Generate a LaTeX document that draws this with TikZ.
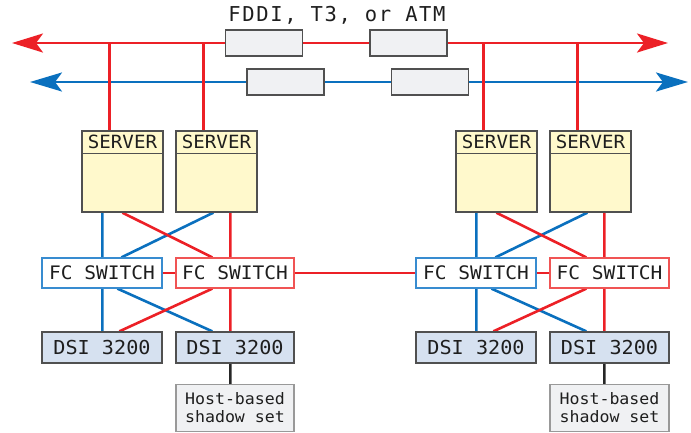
\documentclass[tikz,border=0pt]{standalone}
\usepackage{fontspec}
\newfontfamily\lblfont[FakeStretch=1.05]{DejaVu Sans Mono}
\newfontfamily\titlefont[LetterSpace=8]{DejaVu Sans Mono}
\usetikzlibrary{arrows.meta,calc,backgrounds}
\definecolor{netred}{RGB}{236,32,38}
\definecolor{netblue}{RGB}{10,112,190}
\definecolor{swred}{RGB}{240,84,84}
\definecolor{swblue}{RGB}{56,140,208}
\definecolor{boxgray}{RGB}{80,80,80}
\definecolor{srvfill}{RGB}{255,249,204}
\definecolor{dsifill}{RGB}{214,225,240}
\definecolor{lightfill}{RGB}{240,241,243}
\definecolor{txt}{RGB}{30,30,30}
\begin{document}
\begin{tikzpicture}[x=1pt,y=-1pt,
  redw/.style={draw=netred,line width=2.6pt},
  bluew/.style={draw=netblue,line width=2.6pt},
  blackw/.style={draw=black!85,line width=2.6pt},
  tip/.style={-{Stealth[length=31pt,width=19pt,inset=7pt]}},
  netbox/.style={draw=boxgray,fill=lightfill,line width=1.2pt,minimum width=77pt,minimum height=26pt,inner sep=0},
  server/.style={draw=boxgray,fill=srvfill,line width=1.3pt,minimum width=81pt,minimum height=81pt,inner sep=0},
  srvlabel/.style={font=\lblfont\fontsize{18.2}{19}\selectfont,text=txt,inner sep=0},
  switchb/.style={fill=white,line width=1.2pt,minimum width=120pt,minimum height=30pt,inner sep=0,font=\lblfont\fontsize{18.6}{19}\selectfont,text=txt},
  dsi/.style={draw=boxgray,fill=dsifill,line width=1.3pt,minimum width=120pt,minimum height=31pt,inner sep=0,font=\lblfont\fontsize{19.2}{19}\selectfont,text=txt},
  host/.style={draw=gray!80,fill=lightfill,line width=1.2pt,minimum width=118pt,minimum height=47pt,inner sep=0,align=center,font=\lblfont\fontsize{15.8}{18}\selectfont,text=txt}
]
\useasboundingbox (0,0) rectangle (691,432);

% title
\node[font=\titlefont\fontsize{20.5}{22}\selectfont,text=txt,inner sep=0] (title) at (337,15) {FDDI, T3, or ATM};

% network bus
\coordinate (redL) at (12,43);
\coordinate (redR) at (668,43);
\coordinate (blueL) at (30,82);
\coordinate (blueR) at (688,82);
\node[netbox] (r1) at (264,43) {};
\node[netbox] (r2) at (408.5,43) {};
\node[netbox] (b1) at (285.5,82) {};
\node[netbox] (b2) at (430,82) {};

% servers
\foreach \n/\x in {1/122.5,2/216.5,3/496.5,4/590.5}{
  \node[server] (s\n) at (\x,171.5) {};
  \node[srvlabel] (s\n t) at ($(s\n.north)+(0,12)$) {SERVER};
  \draw[boxgray,line width=1.3pt] ($(s\n.north west)+(0,23)$) -- ($(s\n.north east)+(0,23)$);
}

% switches
\node[switchb,draw=swblue] (w1) at (102,273) {FC SWITCH};
\node[switchb,draw=swred,minimum width=118pt] (w2) at (235,273) {FC SWITCH};
\node[switchb,draw=swblue] (w3) at (476,273) {FC SWITCH};
\node[switchb,draw=swred,minimum width=119pt] (w4) at (609.5,273) {FC SWITCH};

% DSI
\node[dsi] (d1) at (102,347.5) {DSI 3200};
\node[dsi,minimum width=118pt] (d2) at (235,347.5) {DSI 3200};
\node[dsi] (d3) at (476,347.5) {DSI 3200};
\node[dsi,minimum width=119pt] (d4) at (609.5,347.5) {DSI 3200};

% hosts
\node[host] (h1) at (235,408) {Host-based\\shadow set};
\node[host,minimum width=119pt] (h2) at (609.5,408) {Host-based\\shadow set};

\begin{scope}[on background layer]
  % buses
  \draw[redw] (r1.east) -- (r2.west);
  \draw[redw,tip] (r1.west) -- (redL);
  \draw[redw,tip] (r2.east) -- (redR);
  \draw[bluew] (b1.east) -- (b2.west);
  \draw[bluew,-{Stealth[length=32pt,width=19pt,inset=7pt]}] (b1.west) -- (blueL);
  \draw[bluew,-{Stealth[length=32pt,width=19pt,inset=7pt]}] (b2.east) -- (blueR);
  % drops to servers
  \foreach \n in {1,2,3,4}{
    \coordinate (sr\n) at ($(s\n.north west)+(28,0)$);
    \draw[bluew] ($(s\n.north west)+(57,0)$) -- ($(s\n.north west)+(57,0)$ |- blueL);
    \draw[redw] (sr\n) -- (sr\n |- redL);
  }
  % servers to switches, switches to DSI
  \foreach \a/\b/\c/\d/\e/\f in {s1/s2/w1/w2/d1/d2, s3/s4/w3/w4/d3/d4}{
    \draw[bluew] ($(\a.south west)+(21,0)$) -- ($(\c.north west)+(61,0)$);
    \draw[bluew] ($(\b.south west)+(38,0)$) -- ($(\c.north west)+(80,0)$);
    \draw[redw] ($(\a.south west)+(41,0)$) -- ($(\d.north west)+(37,0)$);
    \draw[redw] ($(\b.south west)+(55,0)$) -- ($(\d.north west)+(55,0)$);
    \draw[redw] (\c.east) -- (\d.west);
    \draw[bluew] ($(\c.south west)+(61,0)$) -- ($(\e.north west)+(61,0)$);
    \draw[bluew] ($(\c.south west)+(76,0)$) -- ($(\f.north west)+(37,0)$);
    \draw[redw] ($(\d.south west)+(37,0)$) -- ($(\e.north west)+(78,0)$);
    \draw[redw] ($(\d.south west)+(55,0)$) -- ($(\f.north west)+(55,0)$);
  }
  \draw[redw] (w2.east) -- (w3.west);
  \draw[blackw] ($(d2.south west)+(55,0)$) -- ($(h1.north west)+(55,0)$);
  \draw[blackw] ($(d4.south west)+(55,0)$) -- ($(h2.north west)+(55,0)$);
\end{scope}
\end{tikzpicture}
\end{document}
